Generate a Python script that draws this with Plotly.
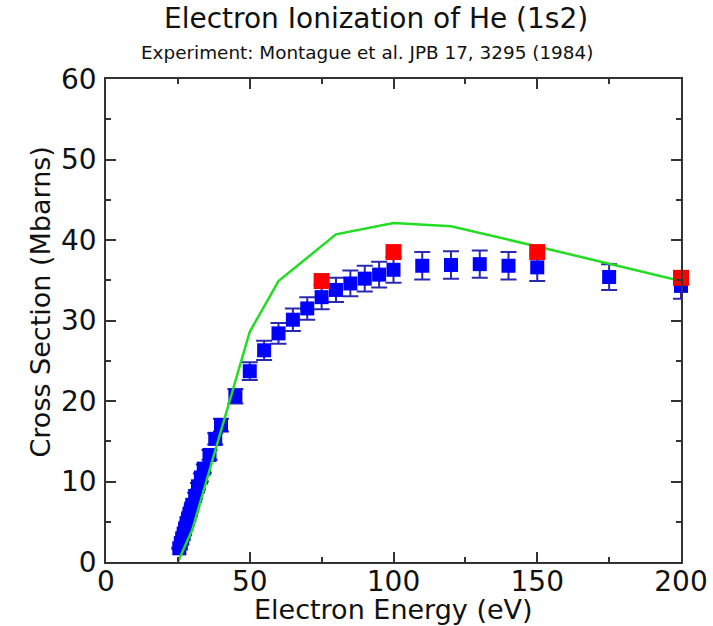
import plotly.graph_objects as go

# Experiment (Montague et al. 1984)
exp_energy = [25.5, 26, 26.5, 27, 27.5, 28, 28.5, 29, 29.5, 30, 31, 32, 33, 34, 36, 38, 40,
              45, 50, 55, 60, 65, 70, 75, 80, 85, 90, 95, 100, 110, 120, 130, 140, 150, 175, 200]
exp_sigma = [1.7, 2.3, 2.9, 3.5, 4.1, 4.8, 5.3, 5.9, 6.5, 7.1, 8.2, 9.4, 10.5, 11.6, 13.3, 15.3, 17.0,
             20.6, 23.7, 26.3, 28.4, 30.1, 31.5, 32.9, 33.8, 34.6, 35.2, 35.7, 36.3, 36.8, 36.9, 37.0, 36.8, 36.6, 35.4, 34.3]
exp_err = [0.1, 0.1, 0.2, 0.2, 0.2, 0.2, 0.3, 0.3, 0.3, 0.3, 0.4, 0.4, 0.5, 0.5, 0.6, 0.7, 0.8,
           0.9, 1.1, 1.2, 1.3, 1.4, 1.4, 1.5, 1.5, 1.6, 1.6, 1.6, 1.6, 1.7, 1.7, 1.7, 1.7, 1.7, 1.6, 1.6]

# Theory curve (green)
th_energy = [25, 30, 50, 60, 80, 100, 120, 150, 200]
th_sigma = [0.0, 4.0, 28.6, 34.9, 40.7, 42.1, 41.7, 39.2, 34.9]

# Red squares
red_energy = [75, 100, 150, 200]
red_sigma = [34.9, 38.5, 38.5, 35.3]

FONT = "DejaVu Sans, Liberation Sans, Arial, sans-serif"
TXT = "#111111"
AX = "#333333"

fig = go.Figure()
fig.add_trace(go.Scatter(
    x=exp_energy, y=exp_sigma, mode="markers",
    marker=dict(symbol="square", size=14, color="#0000ff", line=dict(width=0)),
    error_y=dict(type="data", array=exp_err, visible=True, color="#2a2ab0", thickness=2, width=8),
    showlegend=False, cliponaxis=False))
fig.add_trace(go.Scatter(
    x=th_energy, y=th_sigma, mode="lines",
    line=dict(color="#22dd22", width=2.5), showlegend=False))
fig.add_trace(go.Scatter(
    x=red_energy, y=red_sigma, mode="markers",
    marker=dict(symbol="square", size=16, color="#ff0000", line=dict(width=0)),
    showlegend=False, cliponaxis=False))

axis_common = dict(
    showline=True, linecolor=AX, linewidth=1.5, mirror="ticks",
    ticks="inside", ticklen=10, tickwidth=1.5, tickcolor=AX,
    showgrid=False, zeroline=False, automargin=False,
    tickfont=dict(family=FONT, size=28, color=TXT),
)

fig.update_xaxes(range=[0, 200], tick0=0, dtick=50, ticklabelstandoff=-6,
                 minor=dict(dtick=25, ticks="inside", ticklen=5, tickwidth=1.5, tickcolor=AX),
                 **axis_common)
fig.update_yaxes(range=[0, 60], tick0=0, dtick=10, ticklabelstandoff=2,
                 minor=dict(dtick=5, ticks="inside", ticklen=5, tickwidth=1.5, tickcolor=AX),
                 **axis_common)

fig.update_layout(
    width=713, height=626,
    margin=dict(l=106, r=32, t=79, b=64),
    plot_bgcolor="white", paper_bgcolor="white",
    annotations=[
        dict(text="Electron Ionization of He (1s2)", xref="paper", yref="paper",
             x=0.4696, y=1.0, yshift=61, xanchor="center", yanchor="middle", showarrow=False,
             font=dict(family=FONT, size=28, color=TXT)),
        dict(text="Experiment: Montague et al. JPB 17, 3295 (1984)", xref="paper", yref="paper",
             x=0.454, y=1.0, yshift=27, xanchor="center", yanchor="middle", showarrow=False,
             font=dict(family=FONT, size=18.4, color=TXT)),
        dict(text="Electron Energy (eV)", xref="paper", yref="paper",
             x=0.5, y=0.0, yshift=-47, xanchor="center", yanchor="middle", showarrow=False,
             font=dict(family=FONT, size=27, color=TXT)),
        dict(text="Cross Section (Mbarns)", xref="paper", yref="paper", textangle=-90,
             x=0.0, xshift=-66, y=0.5, yshift=18, xanchor="center", yanchor="middle", showarrow=False,
             font=dict(family=FONT, size=27, color=TXT)),
    ],
)

fig.write_html("out.html", post_script="document.body.style.margin='0';",
               config={"displayModeBar": False})
